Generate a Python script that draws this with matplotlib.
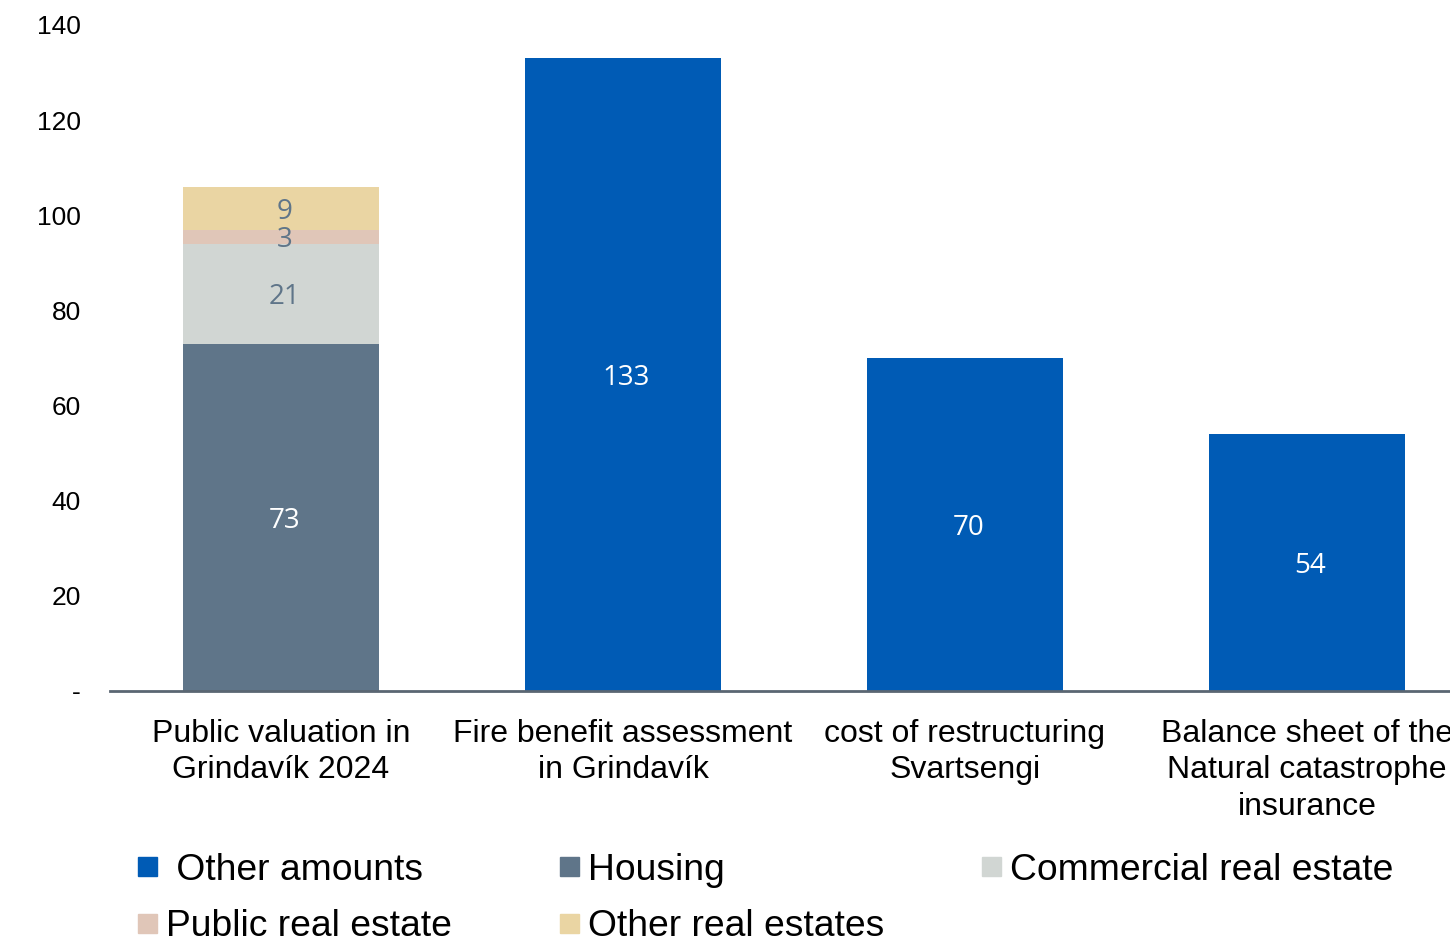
import matplotlib
matplotlib.use("Agg")
import matplotlib.pyplot as plt
from matplotlib.patches import Rectangle

# data (bn ISK)
categories = ["Public valuation in\nGrindavík 2024",
              "Fire benefit assessment\nin Grindavík",
              "cost of restructuring\nSvartsengi",
              "Balance sheet of the\nNatural catastrophe\ninsurance"]
housing = [73, 0, 0, 0]
commercial = [21, 0, 0, 0]
public = [3, 0, 0, 0]
other_real = [9, 0, 0, 0]
other_amounts = [0, 133, 70, 54]

series_names = [" Other amounts", "Housing", "Commercial real estate",
                "Public real estate", "Other real estates"]
yticks = [0, 20, 40, 60, 80, 100, 120, 140]
ytick_labels = ["-", "20", "40", "60", "80", "100", "120", "140"]

c_other = "#005BB5"
c_housing = "#5F7589"
c_comm = "#D1D6D3"
c_public = "#E0C6B8"
c_otherre = "#EAD5A3"

plt.rcParams['font.family'] = ['Liberation Sans', 'DejaVu Sans']
label_font = ["Open Sans", "DejaVu Sans"]

fig = plt.figure(figsize=(14.5, 9.42), dpi=100)
ax = fig.add_axes([110 / 1450, 1 - 691 / 942, 4 * 342 / 1450, (691 - 25) / 942])

x = list(range(len(categories)))
w = 0.573

stack = [
    (housing, c_housing, "white"),
    (commercial, c_comm, c_housing),
    (public, c_public, c_housing),
    (other_real, c_otherre, c_housing),
]
bottom = [0] * len(x)
for vals, col, tcol in stack:
    ax.bar(x, vals, w, bottom=bottom, color=col, zorder=2)
    for i, v in enumerate(vals):
        if v > 0:
            ax.text(x[i] + 0.01, bottom[i] + v / 2, str(v), ha="center",
                    va="center_baseline", color=tcol, fontsize=20, family=label_font)
    bottom = [b + v for b, v in zip(bottom, vals)]

ax.bar(x, other_amounts, w, color=c_other, zorder=2)
for i, v in enumerate(other_amounts):
    if v > 0:
        ax.text(x[i] + 0.01, v / 2, str(v), ha="center", va="center_baseline",
                color="white", fontsize=20, family=label_font)

ax.set_xlim(-0.5, 3.5)
ax.set_ylim(0, 140)
ax.set_yticks(yticks)
ax.set_yticklabels(ytick_labels, fontsize=19)
ax.set_xticks(x)
ax.set_xticklabels(categories, fontsize=23, linespacing=1.28)
ax.tick_params(axis="y", length=0, pad=21)
ax.tick_params(axis="x", length=0, pad=20)

for s in ["top", "right", "left"]:
    ax.spines[s].set_visible(False)
ax.spines["bottom"].set_color("#5A6672")
ax.spines["bottom"].set_linewidth(2)
ax.spines["bottom"].set_zorder(3)

# legend drawn by hand on a fixed grid
legend_colors = [c_other, c_housing, c_comm, c_public, c_otherre]
col_x = [138, 560, 982]
row_y = [866, 923]
sq = 19
for k, (name, col) in enumerate(zip(series_names, legend_colors)):
    cx = col_x[k % 3]
    cy = row_y[k // 3]
    fig.add_artist(Rectangle((cx / 1450, 1 - (cy + sq / 2) / 942), sq / 1450, sq / 942,
                             transform=fig.transFigure, color=col))
    fig.text((cx + sq + 9) / 1450, 1 - cy / 942, name, fontsize=26.8,
             ha="left", va="center_baseline")

fig.savefig("out.png", dpi=100)
